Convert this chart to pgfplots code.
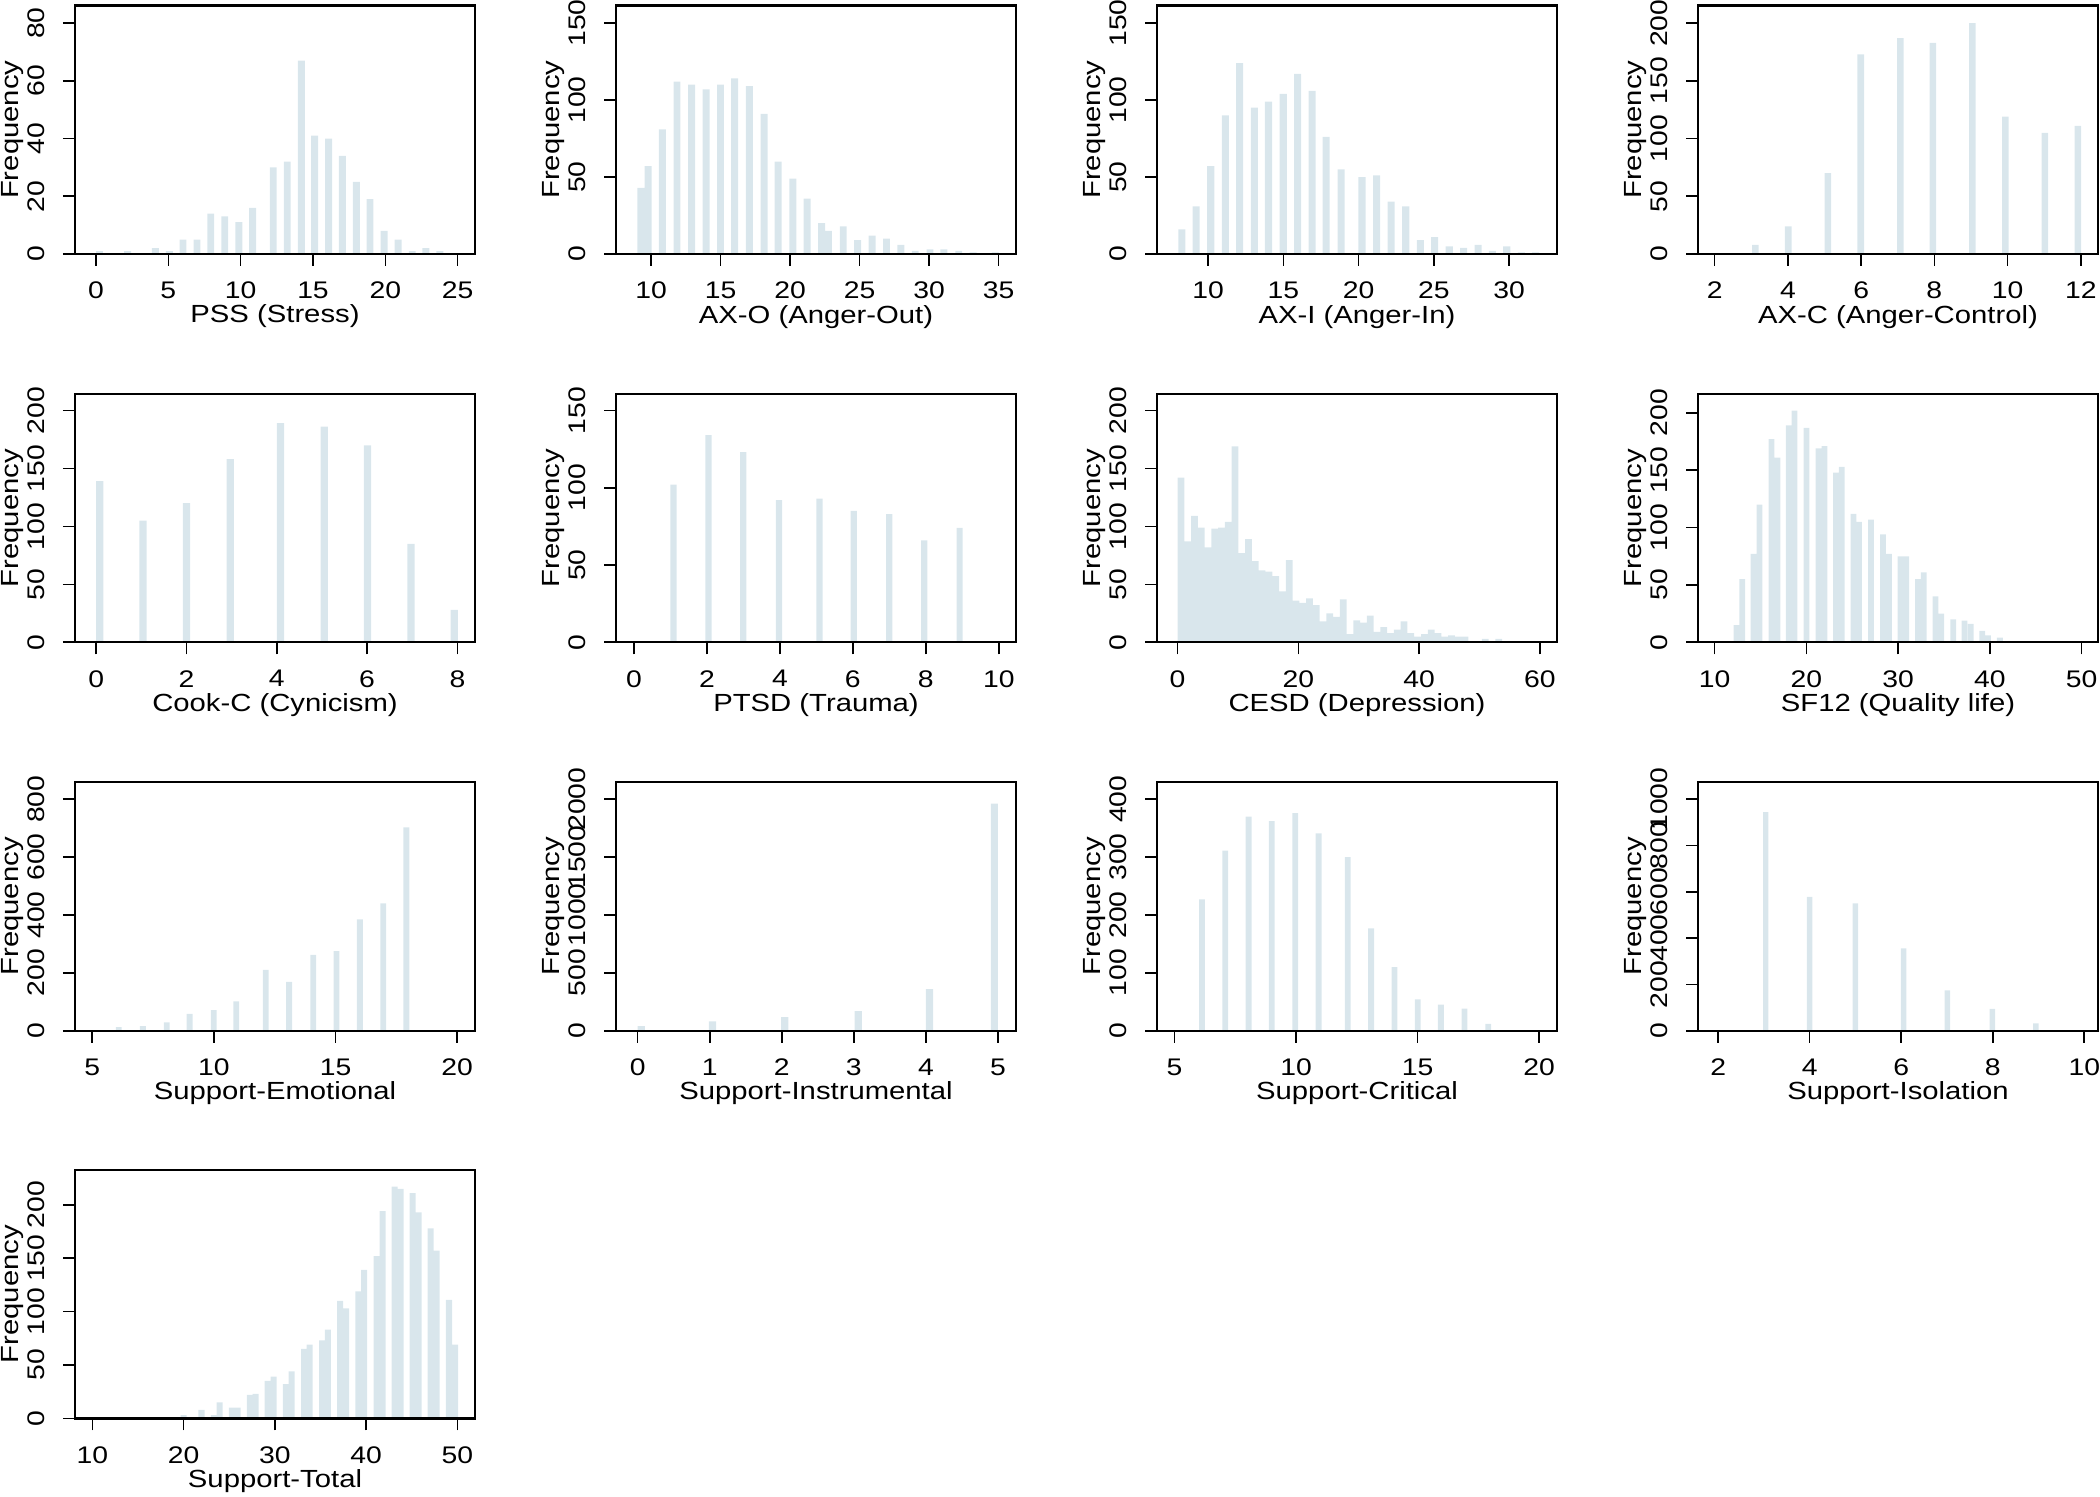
\documentclass[border=0pt]{standalone}
\usepackage{fontspec}
\setmainfont{Liberation Sans}[FakeStretch=1.18]
\usepackage{pgfplots}
\pgfplotsset{compat=1.18}
\definecolor{barc}{RGB}{217,230,236}
\pgfplotsset{
  hist/.style={
    scale only axis, width=200pt, height=124.25pt,
    ymin=0, axis on top,
    axis line style={line width=1.2pt, black},
    tick align=outside, major tick length=6pt,
    xtick pos=bottom, ytick pos=left,
    every tick/.style={black, line width=0.8pt},
    minor tick num=0,
    tick label style={inner sep=0pt, font=\fontsize{12}{12.5}\selectfont},
    xticklabel shift=7.8pt,
    yticklabel shift=8.8pt,
    yticklabel style={rotate=90, anchor=south},
    ylabel={Frequency},
    label style={inner sep=0pt, font=\fontsize{12.4}{13}\selectfont},
    xlabel style={at={(axis description cs:0.5,-0.2777)}, anchor=base},
    ylabel style={at={(axis description cs:-0.157,0.5)}, anchor=center},
    scaled ticks=false,
    /pgf/number format/1000 sep={},
    /pgf/number format/assume math mode=true,
  },
  bars/.style={ybar, fill=barc, draw=none, bar width=#1},
}
\begin{document}
\begin{tikzpicture}[x=1pt,y=1pt]
\path[use as bounding box] (0,0) rectangle (1050,748);
% Row 1
\begin{axis}[hist, at={(37.5pt,621pt)}, anchor=south west,
  xmin=-1.455, xmax=26.2, ymax=86.1, xtick={0,5,...,25}, ytick={0,20,...,80},
  xlabel={PSS (Stress)}]
\addplot[bars=0.48] coordinates {(0.24,1) (2.18,1) (4.10,2) (5.07,1) (6.01,5) (6.98,5) (7.93,14) (8.90,13) (9.87,11) (10.82,16) (12.25,30) (13.22,32) (14.19,67) (15.11,41) (16.08,40) (17.03,34) (18.00,25) (18.94,19) (19.92,8) (20.89,5) (21.86,1) (22.80,2) (23.77,1)};
\end{axis}
\begin{axis}[hist, at={(308pt,621pt)}, anchor=south west,
  xmin=7.47, xmax=36.25, ymax=161.4, xtick={10,15,...,35}, ytick={0,50,100,150},
  xlabel={AX-O (Anger-Out)}]
\addplot[bars=0.5] coordinates {(9.26,43) (9.78,57) (10.81,81) (11.86,112) (12.91,110) (13.96,107) (14.99,110) (16.01,114) (17.06,109) (18.12,91) (19.14,60) (20.19,49) (21.22,36) (22.26,20) (22.76,15) (23.82,18) (24.85,9) (25.90,12) (26.93,10) (27.96,6) (29.00,2) (30.06,3) (31.06,3) (32.13,2) (33.16,1) (34.76,1)};
\end{axis}
\begin{axis}[hist, at={(578.5pt,621pt)}, anchor=south west,
  xmin=6.6, xmax=33.18, ymax=161.4, xtick={10,15,...,30}, ytick={0,50,100,150},
  xlabel={AX-I (Anger-In)}]
\addplot[bars=0.47] coordinates {(8.25,16) (9.20,31) (10.17,57) (11.14,90) (12.09,124) (13.07,95) (14.01,99) (14.99,104) (15.94,117) (16.91,106) (17.84,76) (18.83,55) (20.22,50) (21.19,51) (22.16,34) (23.13,31) (24.10,9) (25.05,11) (26.02,5) (26.97,4) (27.94,6) (28.89,2) (29.84,5) (30.81,1) (31.76,1)};
\end{axis}
\begin{axis}[hist, at={(849pt,621pt)}, anchor=south west,
  xmin=1.545, xmax=12.47, ymax=215.3, xtick={2,4,...,12}, ytick={0,50,...,200},
  xlabel={AX-C (Anger-Control)}]
\addplot[bars=0.18] coordinates {(3.11,8) (4.01,24) (5.09,70) (5.99,173) (7.07,187) (7.96,183) (9.04,200) (9.94,119) (11.02,105) (11.92,111)};
\end{axis}
% Row 2
\begin{axis}[hist, at={(37.5pt,426.85pt)}, anchor=south west,
  xmin=-0.47, xmax=8.39, ymax=214.4, xtick={0,2,...,8}, ytick={0,50,...,200},
  xlabel={Cook-C (Cynicism)}]
\addplot[bars=0.16] coordinates {(0.08,139) (1.035,105) (2.00,120) (2.97,158) (4.08,189) (5.05,186) (6.01,170) (6.97,85) (7.93,28)};
\end{axis}
\begin{axis}[hist, at={(308pt,426.85pt)}, anchor=south west,
  xmin=-0.49, xmax=10.47, ymax=160.8, xtick={0,2,...,10}, ytick={0,50,100,150},
  xlabel={PTSD (Trauma)}]
\addplot[bars=0.17] coordinates {(1.085,102) (2.045,134) (2.995,123) (3.975,92) (5.085,93) (6.025,85) (6.995,83) (7.955,66) (8.925,74)};
\end{axis}
\begin{axis}[hist, at={(578.5pt,426.85pt)}, anchor=south west,
  xmin=-3.41, xmax=62.85, ymax=214.4, xtick={0,20,40,60}, ytick={0,50,...,200},
  xlabel={CESD (Depression)}]
\addplot[bars=1.12] coordinates {(0.56,142) (1.68,87) (2.80,109) (3.92,99) (5.04,82) (6.16,98) (7.28,99) (8.40,104) (9.52,169) (10.64,77) (11.76,89) (12.88,70) (14.00,62) (15.12,61) (16.24,57) (17.36,44) (18.48,71) (19.60,36) (20.72,34) (21.84,38) (22.96,32) (24.08,18) (25.20,25) (26.32,22) (27.44,37) (28.56,7) (29.68,19) (30.80,17) (31.92,23) (33.04,9) (34.16,13) (35.28,8) (36.40,11) (37.52,18) (38.64,8) (39.76,5) (40.88,7) (42.00,11) (43.12,8) (44.24,5) (45.36,6) (46.48,5) (47.60,5) (48.72,1) (49.84,1) (50.96,3) (52.08,1) (53.20,3) (54.32,1) (55.44,1)};
\end{axis}
\begin{axis}[hist, at={(849pt,426.85pt)}, anchor=south west,
  xmin=8.19, xmax=51.8, ymax=216.6, xtick={10,20,...,50}, ytick={0,50,...,200},
  xlabel={SF12 (Quality life)}]
\addplot[bars=0.63] coordinates {(12.39,15) (13.01,55) (14.24,77) (14.89,120) (16.20,177) (16.85,161) (18.09,189) (18.70,202) (20.01,187) (21.32,169) (21.97,171) (23.24,148) (23.86,153) (25.13,112) (25.75,105) (27.05,107) (28.36,94) (29.01,77) (30.28,75) (30.90,75) (32.17,55) (32.79,61) (34.09,40) (34.71,25) (36.02,20) (37.25,19) (37.92,16) (39.18,10) (39.79,6) (41.10,4) (41.72,1) (42.99,1)};
\end{axis}
% Row 3
\begin{axis}[hist, at={(37.5pt,232.65pt)}, anchor=south west,
  xmin=4.29, xmax=20.73, ymax=858.8, xtick={5,10,...,20}, ytick={0,200,...,800},
  xlabel={Support-Emotional}]
\addplot[bars=0.24] coordinates {(6.09,12) (7.08,16) (8.06,29) (9.00,58) (9.99,71) (10.92,101) (12.13,210) (13.09,169) (14.08,262) (15.04,275) (16.00,385) (16.96,440) (17.91,703)};
\end{axis}
\begin{axis}[hist, at={(308pt,232.65pt)}, anchor=south west,
  xmin=-0.30, xmax=5.25, ymax=2147, xtick={0,1,...,5}, ytick={0,500,...,2000},
  xlabel={Support-Instrumental}]
\addplot[bars=0.1] coordinates {(0.05,40) (1.04,80) (2.04,118) (3.06,170) (4.05,360) (4.95,1962)};
\end{axis}
\begin{axis}[hist, at={(578.5pt,232.65pt)}, anchor=south west,
  xmin=4.28, xmax=20.74, ymax=429.4, xtick={5,10,...,20}, ytick={0,100,...,400},
  xlabel={Support-Critical}]
\addplot[bars=0.24] coordinates {(6.13,227) (7.09,311) (8.05,370) (9.00,362) (9.97,376) (10.93,341) (12.13,300) (13.09,177) (14.05,110) (15.01,54) (15.96,45) (16.93,38) (17.91,12)};
\end{axis}
\begin{axis}[hist, at={(849pt,232.65pt)}, anchor=south west,
  xmin=1.56, xmax=10.3, ymax=1073, xtick={2,4,...,10}, ytick={0,200,...,1000},
  xlabel={Support-Isolation}]
\addplot[bars=0.12] coordinates {(3.04,944) (4.00,578) (5.00,550) (6.05,356) (7.01,174) (7.99,94) (8.94,32)};
\end{axis}
% Row 4
\begin{axis}[hist, at={(37.5pt,38.85pt)}, anchor=south west,
  xmin=8.1, xmax=51.93, ymax=232.8, xtick={10,20,...,50}, ytick={0,50,...,200},
  xlabel={Support-Total}]
\addplot[bars=0.66] coordinates {(17.03,1) (18.33,1) (19.99,3) (21.96,8) (23.32,3) (23.94,15) (25.29,10) (25.93,10) (27.27,22) (27.89,23) (29.21,35) (29.87,39) (31.22,32) (31.84,44) (33.20,65) (33.82,69) (35.17,73) (35.80,83) (37.15,110) (37.81,103) (39.16,119) (39.78,139) (41.14,152) (41.80,194) (43.11,217) (43.77,215) (45.09,211) (45.75,193) (47.07,178) (47.73,157) (49.08,111) (49.74,69)};
\end{axis}
\end{tikzpicture}
\end{document}
